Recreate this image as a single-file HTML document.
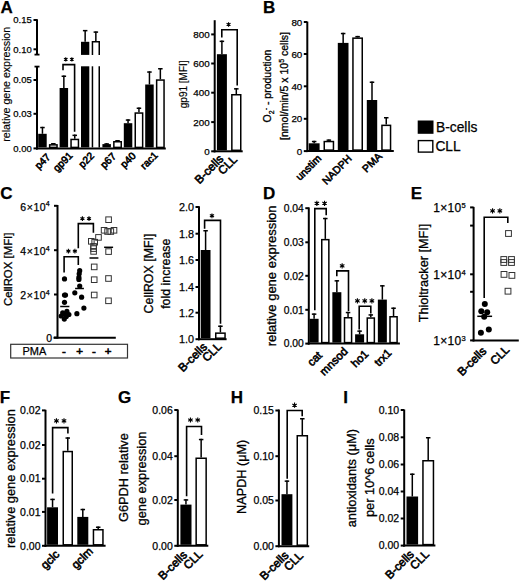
<!DOCTYPE html>
<html><head><meta charset="utf-8"><style>
html,body{margin:0;padding:0;background:#fff;}
body{width:520px;height:582px;overflow:hidden;}
svg{display:block;font-family:"Liberation Sans",sans-serif;}
text{fill:#000;stroke:#000;stroke-width:0.25px;}
.xl{stroke-width:0.6px;}
.yt{stroke-width:0.3px;}
</style></head><body>
<svg width="520" height="582" viewBox="0 0 520 582">
<text x="0.60" y="12.60" font-size="17" text-anchor="start" font-weight="bold">A</text>
<line x1="37.00" y1="19.20" x2="37.00" y2="55.00" stroke="#000" stroke-width="2"/>
<line x1="33.50" y1="20.00" x2="37.00" y2="20.00" stroke="#000" stroke-width="2"/>
<line x1="33.50" y1="49.30" x2="37.00" y2="49.30" stroke="#000" stroke-width="2"/>
<line x1="34.50" y1="54.60" x2="39.50" y2="54.60" stroke="#000" stroke-width="1.8"/>
<line x1="37.00" y1="66.00" x2="37.00" y2="149.40" stroke="#000" stroke-width="2"/>
<line x1="34.50" y1="66.60" x2="39.50" y2="66.60" stroke="#000" stroke-width="1.8"/>
<line x1="33.50" y1="80.00" x2="37.00" y2="80.00" stroke="#000" stroke-width="2"/>
<line x1="33.50" y1="113.80" x2="37.00" y2="113.80" stroke="#000" stroke-width="2"/>
<line x1="33.50" y1="148.40" x2="37.00" y2="148.40" stroke="#000" stroke-width="2"/>
<text x="31.80" y="23.40" font-size="9.5" text-anchor="end" font-weight="normal">0.15</text>
<text x="31.80" y="52.70" font-size="9.5" text-anchor="end" font-weight="normal">0.10</text>
<text x="31.80" y="83.40" font-size="9.5" text-anchor="end" font-weight="normal">0.05</text>
<text x="31.80" y="117.20" font-size="9.5" text-anchor="end" font-weight="normal">0.03</text>
<text x="31.80" y="151.80" font-size="9.5" text-anchor="end" font-weight="normal">0.00</text>
<line x1="36.00" y1="148.60" x2="165.80" y2="148.60" stroke="#000" stroke-width="2"/>
<line x1="42.45" y1="126.80" x2="42.45" y2="133.80" stroke="#000" stroke-width="1.5"/>
<line x1="40.20" y1="127.55" x2="44.70" y2="127.55" stroke="#000" stroke-width="1.5"/>
<rect x="38.20" y="133.80" width="8.50" height="13.60" fill="#000"/>
<line x1="53.35" y1="143.00" x2="53.35" y2="144.10" stroke="#000" stroke-width="1.5"/>
<line x1="51.10" y1="143.75" x2="55.60" y2="143.75" stroke="#000" stroke-width="1.5"/>
<rect x="49.65" y="144.85" width="7.40" height="2.55" fill="#fff" stroke="#000" stroke-width="1.5"/>
<line x1="63.85" y1="75.50" x2="63.85" y2="88.00" stroke="#000" stroke-width="1.5"/>
<line x1="61.60" y1="76.25" x2="66.10" y2="76.25" stroke="#000" stroke-width="1.5"/>
<rect x="59.60" y="88.00" width="8.50" height="59.40" fill="#000"/>
<line x1="74.75" y1="134.60" x2="74.75" y2="138.70" stroke="#000" stroke-width="1.5"/>
<line x1="72.50" y1="135.35" x2="77.00" y2="135.35" stroke="#000" stroke-width="1.5"/>
<rect x="71.05" y="139.45" width="7.40" height="7.95" fill="#fff" stroke="#000" stroke-width="1.5"/>
<line x1="85.15" y1="29.90" x2="85.15" y2="41.80" stroke="#000" stroke-width="1.5"/>
<line x1="82.90" y1="30.65" x2="87.40" y2="30.65" stroke="#000" stroke-width="1.5"/>
<rect x="81.00" y="41.80" width="8.30" height="13.10" fill="#000"/>
<line x1="95.85" y1="31.40" x2="95.85" y2="41.10" stroke="#000" stroke-width="1.5"/>
<line x1="93.60" y1="32.10" x2="98.10" y2="32.10" stroke="#000" stroke-width="1.5"/>
<polyline points="92.45,54.9 92.45,41.85 99.25,41.85 99.25,54.9" fill="none" stroke="#000" stroke-width="1.5"/>
<rect x="81.00" y="66.30" width="8.30" height="81.10" fill="#000"/>
<line x1="92.45" y1="66.30" x2="92.45" y2="147.40" stroke="#000" stroke-width="1.5"/>
<line x1="99.25" y1="66.30" x2="99.25" y2="147.40" stroke="#000" stroke-width="1.5"/>
<line x1="106.65" y1="143.20" x2="106.65" y2="144.10" stroke="#000" stroke-width="1.5"/>
<line x1="104.40" y1="143.95" x2="108.90" y2="143.95" stroke="#000" stroke-width="1.5"/>
<rect x="102.40" y="144.10" width="8.50" height="3.30" fill="#000"/>
<line x1="117.55" y1="140.00" x2="117.55" y2="141.00" stroke="#000" stroke-width="1.5"/>
<line x1="115.30" y1="140.75" x2="119.80" y2="140.75" stroke="#000" stroke-width="1.5"/>
<rect x="113.85" y="141.75" width="7.40" height="5.65" fill="#fff" stroke="#000" stroke-width="1.5"/>
<line x1="128.05" y1="119.30" x2="128.05" y2="123.20" stroke="#000" stroke-width="1.5"/>
<line x1="125.80" y1="120.05" x2="130.30" y2="120.05" stroke="#000" stroke-width="1.5"/>
<rect x="123.80" y="123.20" width="8.50" height="24.20" fill="#000"/>
<line x1="138.95" y1="107.50" x2="138.95" y2="112.30" stroke="#000" stroke-width="1.5"/>
<line x1="136.70" y1="108.25" x2="141.20" y2="108.25" stroke="#000" stroke-width="1.5"/>
<rect x="135.25" y="113.05" width="7.40" height="34.35" fill="#fff" stroke="#000" stroke-width="1.5"/>
<line x1="149.45" y1="71.30" x2="149.45" y2="84.50" stroke="#000" stroke-width="1.5"/>
<line x1="147.20" y1="72.05" x2="151.70" y2="72.05" stroke="#000" stroke-width="1.5"/>
<rect x="145.20" y="84.50" width="8.50" height="62.90" fill="#000"/>
<line x1="160.35" y1="68.00" x2="160.35" y2="79.30" stroke="#000" stroke-width="1.5"/>
<line x1="158.10" y1="68.75" x2="162.60" y2="68.75" stroke="#000" stroke-width="1.5"/>
<rect x="156.65" y="80.05" width="7.40" height="67.35" fill="#fff" stroke="#000" stroke-width="1.5"/>
<polyline points="63.00,70.30 63.00,64.60 74.60,64.60 74.60,131.80" fill="none" stroke="#000" stroke-width="1.6"/>
<path d="M65.75,57.30L65.75,61.50M63.93,58.35L67.57,60.45M63.93,60.45L67.57,58.35" stroke="#000" stroke-width="1.1" fill="none"/><circle cx="65.75" cy="59.40" r="0.88" fill="#000"/>
<path d="M71.85,57.30L71.85,61.50M70.03,58.35L73.67,60.45M70.03,60.45L73.67,58.35" stroke="#000" stroke-width="1.1" fill="none"/><circle cx="71.85" cy="59.40" r="0.88" fill="#000"/>
<text x="10.40" y="84.30" font-size="10.6" text-anchor="middle" font-weight="normal" transform="rotate(-90 10.40 84.30)" style="stroke-width:0.15px" class="yt">relative gene expression</text>
<line x1="214.70" y1="20.20" x2="214.70" y2="152.30" stroke="#000" stroke-width="2"/>
<line x1="211.20" y1="34.40" x2="214.70" y2="34.40" stroke="#000" stroke-width="2"/>
<text x="209.70" y="37.93" font-size="9.8" text-anchor="end" font-weight="normal">800</text>
<line x1="211.20" y1="63.50" x2="214.70" y2="63.50" stroke="#000" stroke-width="2"/>
<text x="209.70" y="67.03" font-size="9.8" text-anchor="end" font-weight="normal">600</text>
<line x1="211.20" y1="92.70" x2="214.70" y2="92.70" stroke="#000" stroke-width="2"/>
<text x="209.70" y="96.23" font-size="9.8" text-anchor="end" font-weight="normal">400</text>
<line x1="211.20" y1="122.10" x2="214.70" y2="122.10" stroke="#000" stroke-width="2"/>
<text x="209.70" y="125.63" font-size="9.8" text-anchor="end" font-weight="normal">200</text>
<line x1="211.20" y1="151.30" x2="214.70" y2="151.30" stroke="#000" stroke-width="2"/>
<text x="209.70" y="154.83" font-size="9.8" text-anchor="end" font-weight="normal">0</text>
<line x1="213.70" y1="151.30" x2="242.70" y2="151.30" stroke="#000" stroke-width="2"/>
<line x1="221.90" y1="40.60" x2="221.90" y2="54.20" stroke="#000" stroke-width="1.5"/>
<line x1="219.65" y1="41.35" x2="224.15" y2="41.35" stroke="#000" stroke-width="1.5"/>
<rect x="216.90" y="54.20" width="10.00" height="96.10" fill="#000"/>
<line x1="236.30" y1="88.10" x2="236.30" y2="94.00" stroke="#000" stroke-width="1.5"/>
<line x1="234.05" y1="88.85" x2="238.55" y2="88.85" stroke="#000" stroke-width="1.5"/>
<rect x="231.85" y="94.75" width="8.90" height="55.55" fill="#fff" stroke="#000" stroke-width="1.5"/>
<polyline points="221.80,37.50 221.80,29.80 237.20,29.80 237.20,85.50" fill="none" stroke="#000" stroke-width="1.6"/>
<path d="M228.55,22.15L228.55,26.75M226.56,23.30L230.54,25.60M226.56,25.60L230.54,23.30" stroke="#000" stroke-width="1.1" fill="none"/><circle cx="228.55" cy="24.45" r="0.97" fill="#000"/>
<text x="187.00" y="84.30" font-size="10" text-anchor="middle" font-weight="normal" transform="rotate(-90 187.00 84.30)" style="stroke-width:0.15px" class="yt">gp91 [MFI]</text>
<text x="263.10" y="12.90" font-size="17" text-anchor="start" font-weight="bold">B</text>
<line x1="307.30" y1="21.60" x2="307.30" y2="152.10" stroke="#000" stroke-width="2"/>
<line x1="303.80" y1="22.00" x2="307.30" y2="22.00" stroke="#000" stroke-width="2"/>
<text x="302.30" y="25.53" font-size="9.8" text-anchor="end" font-weight="normal">80</text>
<line x1="303.80" y1="54.00" x2="307.30" y2="54.00" stroke="#000" stroke-width="2"/>
<text x="302.30" y="57.53" font-size="9.8" text-anchor="end" font-weight="normal">60</text>
<line x1="303.80" y1="86.30" x2="307.30" y2="86.30" stroke="#000" stroke-width="2"/>
<text x="302.30" y="89.83" font-size="9.8" text-anchor="end" font-weight="normal">40</text>
<line x1="303.80" y1="118.80" x2="307.30" y2="118.80" stroke="#000" stroke-width="2"/>
<text x="302.30" y="122.33" font-size="9.8" text-anchor="end" font-weight="normal">20</text>
<line x1="303.80" y1="151.10" x2="307.30" y2="151.10" stroke="#000" stroke-width="2"/>
<text x="302.30" y="154.63" font-size="9.8" text-anchor="end" font-weight="normal">0</text>
<line x1="306.30" y1="151.10" x2="393.80" y2="151.10" stroke="#000" stroke-width="2"/>
<line x1="314.15" y1="140.80" x2="314.15" y2="143.30" stroke="#000" stroke-width="1.5"/>
<line x1="311.90" y1="141.55" x2="316.40" y2="141.55" stroke="#000" stroke-width="1.5"/>
<rect x="308.70" y="143.30" width="10.90" height="6.80" fill="#000"/>
<line x1="328.85" y1="139.40" x2="328.85" y2="140.80" stroke="#000" stroke-width="1.5"/>
<line x1="326.60" y1="140.15" x2="331.10" y2="140.15" stroke="#000" stroke-width="1.5"/>
<rect x="324.25" y="141.55" width="9.20" height="8.55" fill="#fff" stroke="#000" stroke-width="1.5"/>
<line x1="343.15" y1="32.80" x2="343.15" y2="42.90" stroke="#000" stroke-width="1.5"/>
<line x1="340.90" y1="33.55" x2="345.40" y2="33.55" stroke="#000" stroke-width="1.5"/>
<rect x="337.80" y="42.90" width="10.70" height="107.20" fill="#000"/>
<line x1="357.60" y1="35.90" x2="357.60" y2="37.40" stroke="#000" stroke-width="1.5"/>
<line x1="355.35" y1="36.65" x2="359.85" y2="36.65" stroke="#000" stroke-width="1.5"/>
<rect x="352.95" y="38.15" width="9.30" height="111.95" fill="#fff" stroke="#000" stroke-width="1.5"/>
<line x1="372.00" y1="81.50" x2="372.00" y2="100.00" stroke="#000" stroke-width="1.5"/>
<line x1="369.75" y1="82.25" x2="374.25" y2="82.25" stroke="#000" stroke-width="1.5"/>
<rect x="366.80" y="100.00" width="10.40" height="50.10" fill="#000"/>
<line x1="386.25" y1="117.00" x2="386.25" y2="124.60" stroke="#000" stroke-width="1.5"/>
<line x1="384.00" y1="117.75" x2="388.50" y2="117.75" stroke="#000" stroke-width="1.5"/>
<rect x="381.95" y="125.35" width="8.60" height="24.75" fill="#fff" stroke="#000" stroke-width="1.5"/>
<text x="271.00" y="86.00" font-size="10.5" text-anchor="middle" font-weight="normal" transform="rotate(-90 271.00 86.00)" class="yt">O<tspan font-size="7" dy="2.5">2</tspan><tspan font-size="7" dy="-6">-</tspan><tspan dy="3.5"> - production</tspan></text>
<text x="288.30" y="86.00" font-size="10.5" text-anchor="middle" font-weight="normal" transform="rotate(-90 288.30 86.00)" class="yt">[nmol/min/5 x 10<tspan font-size="7" dy="-4">5</tspan><tspan dy="4"> cells]</tspan></text>
<rect x="417.70" y="120.50" width="15.80" height="13.30" fill="#000"/>
<rect x="418.40" y="140.60" width="14.40" height="11.50" fill="#fff" stroke="#000" stroke-width="1.4"/>
<text x="436.00" y="131.60" font-size="13.8" text-anchor="start" font-weight="normal">B-cells</text>
<text x="435.40" y="150.90" font-size="13.8" text-anchor="start" font-weight="normal">CLL</text>
<text x="0.20" y="198.80" font-size="17" text-anchor="start" font-weight="bold">C</text>
<line x1="57.50" y1="205.00" x2="57.50" y2="338.60" stroke="#000" stroke-width="2"/>
<line x1="54.00" y1="205.80" x2="57.50" y2="205.80" stroke="#000" stroke-width="2"/>
<line x1="54.00" y1="250.20" x2="57.50" y2="250.20" stroke="#000" stroke-width="2"/>
<line x1="54.00" y1="294.50" x2="57.50" y2="294.50" stroke="#000" stroke-width="2"/>
<line x1="54.00" y1="337.60" x2="57.50" y2="337.60" stroke="#000" stroke-width="2"/>
<text x="50.20" y="210.70" font-size="10.5" text-anchor="end" font-weight="normal" letter-spacing="0.6">6×10<tspan font-size="7" dx="-0.6" dy="-4.6">4</tspan></text>
<text x="50.20" y="255.10" font-size="10.5" text-anchor="end" font-weight="normal" letter-spacing="0.6">4×10<tspan font-size="7" dx="-0.6" dy="-4.6">4</tspan></text>
<text x="50.20" y="299.40" font-size="10.5" text-anchor="end" font-weight="normal" letter-spacing="0.6">2×10<tspan font-size="7" dx="-0.6" dy="-4.6">4</tspan></text>
<text x="52.00" y="342.30" font-size="10.5" text-anchor="end" font-weight="normal">0</text>
<line x1="53.50" y1="337.80" x2="115.80" y2="337.80" stroke="#000" stroke-width="2"/>
<text x="12.40" y="269.30" font-size="11.4" text-anchor="middle" font-weight="normal" transform="rotate(-90 12.40 269.30)" class="yt">CellROX [MFI]</text>
<circle cx="64.50" cy="278.90" r="2.6" fill="#000"/>
<circle cx="64.50" cy="295.10" r="2.6" fill="#000"/>
<circle cx="65.50" cy="295.10" r="2.6" fill="#000"/>
<circle cx="64.50" cy="302.30" r="2.6" fill="#000"/>
<circle cx="62.70" cy="312.90" r="2.6" fill="#000"/>
<circle cx="66.90" cy="311.40" r="2.6" fill="#000"/>
<circle cx="68.90" cy="314.50" r="2.6" fill="#000"/>
<circle cx="61.20" cy="316.00" r="2.6" fill="#000"/>
<circle cx="64.30" cy="319.10" r="2.6" fill="#000"/>
<circle cx="66.30" cy="316.50" r="2.6" fill="#000"/>
<circle cx="64.00" cy="314.00" r="2.6" fill="#000"/>
<line x1="60.20" y1="306.50" x2="69.40" y2="306.50" stroke="#000" stroke-width="1.5"/>
<circle cx="79.70" cy="270.70" r="2.6" fill="#000"/>
<circle cx="79.20" cy="273.80" r="2.6" fill="#000"/>
<circle cx="78.90" cy="277.40" r="2.6" fill="#000"/>
<circle cx="78.90" cy="279.40" r="2.6" fill="#000"/>
<circle cx="79.70" cy="286.10" r="2.6" fill="#000"/>
<circle cx="74.80" cy="292.80" r="2.6" fill="#000"/>
<circle cx="81.60" cy="297.20" r="2.6" fill="#000"/>
<circle cx="83.90" cy="308.10" r="2.6" fill="#000"/>
<circle cx="76.90" cy="313.70" r="2.6" fill="#000"/>
<line x1="75.10" y1="288.50" x2="83.90" y2="288.50" stroke="#000" stroke-width="1.5"/>
<rect x="88.50" y="238.50" width="5.6" height="5.6" fill="none" stroke="#333" stroke-width="1.0"/>
<rect x="91.90" y="239.40" width="5.6" height="5.6" fill="none" stroke="#333" stroke-width="1.0"/>
<rect x="95.70" y="234.60" width="5.6" height="5.6" fill="none" stroke="#333" stroke-width="1.0"/>
<rect x="90.80" y="243.60" width="5.6" height="5.6" fill="none" stroke="#333" stroke-width="1.0"/>
<rect x="90.80" y="245.80" width="5.6" height="5.6" fill="none" stroke="#333" stroke-width="1.0"/>
<rect x="90.80" y="248.60" width="5.6" height="5.6" fill="none" stroke="#333" stroke-width="1.0"/>
<rect x="91.40" y="264.10" width="5.6" height="5.6" fill="none" stroke="#333" stroke-width="1.0"/>
<rect x="91.40" y="276.90" width="5.6" height="5.6" fill="none" stroke="#333" stroke-width="1.0"/>
<rect x="91.40" y="292.20" width="5.6" height="5.6" fill="none" stroke="#333" stroke-width="1.0"/>
<line x1="89.50" y1="258.00" x2="98.40" y2="258.00" stroke="#000" stroke-width="1.5"/>
<rect x="105.80" y="216.90" width="5.6" height="5.6" fill="none" stroke="#333" stroke-width="1.0"/>
<rect x="101.30" y="227.50" width="5.6" height="5.6" fill="none" stroke="#333" stroke-width="1.0"/>
<rect x="104.80" y="228.70" width="5.6" height="5.6" fill="none" stroke="#333" stroke-width="1.0"/>
<rect x="108.00" y="228.70" width="5.6" height="5.6" fill="none" stroke="#333" stroke-width="1.0"/>
<rect x="111.20" y="227.50" width="5.6" height="5.6" fill="none" stroke="#333" stroke-width="1.0"/>
<rect x="105.80" y="248.80" width="5.6" height="5.6" fill="none" stroke="#333" stroke-width="1.0"/>
<rect x="105.70" y="275.70" width="5.6" height="5.6" fill="none" stroke="#333" stroke-width="1.0"/>
<rect x="105.70" y="298.00" width="5.6" height="5.6" fill="none" stroke="#333" stroke-width="1.0"/>
<line x1="104.10" y1="247.30" x2="113.10" y2="247.30" stroke="#000" stroke-width="1.5"/>
<polyline points="64.10,272.50 64.10,256.70 78.30,256.70 78.30,265.00" fill="none" stroke="#000" stroke-width="1.6"/>
<path d="M68.40,248.80L68.40,253.40M66.41,249.95L70.39,252.25M66.41,252.25L70.39,249.95" stroke="#000" stroke-width="1.1" fill="none"/><circle cx="68.40" cy="251.10" r="0.97" fill="#000"/>
<path d="M74.90,248.80L74.90,253.40M72.91,249.95L76.89,252.25M72.91,252.25L76.89,249.95" stroke="#000" stroke-width="1.1" fill="none"/><circle cx="74.90" cy="251.10" r="0.97" fill="#000"/>
<polyline points="78.30,248.30 78.30,223.60 93.40,223.60 93.40,232.80" fill="none" stroke="#000" stroke-width="1.6"/>
<path d="M82.40,216.30L82.40,220.90M80.41,217.45L84.39,219.75M80.41,219.75L84.39,217.45" stroke="#000" stroke-width="1.1" fill="none"/><circle cx="82.40" cy="218.60" r="0.97" fill="#000"/>
<path d="M89.00,216.30L89.00,220.90M87.01,217.45L90.99,219.75M87.01,219.75L90.99,217.45" stroke="#000" stroke-width="1.1" fill="none"/><circle cx="89.00" cy="218.60" r="0.97" fill="#000"/>
<rect x="10.70" y="344.30" width="116.80" height="13.70" fill="#fff" stroke="#333" stroke-width="1.2"/>
<text x="22.50" y="355.40" font-size="11" text-anchor="start" font-weight="normal">PMA</text>
<text x="63.80" y="355.00" font-size="11.5" text-anchor="middle" font-weight="normal" style="stroke-width:0.6px">-</text>
<text x="79.50" y="355.00" font-size="11.5" text-anchor="middle" font-weight="normal" style="stroke-width:0.6px">+</text>
<text x="93.80" y="355.00" font-size="11.5" text-anchor="middle" font-weight="normal" style="stroke-width:0.6px">-</text>
<text x="108.00" y="355.00" font-size="11.5" text-anchor="middle" font-weight="normal" style="stroke-width:0.6px">+</text>
<line x1="199.00" y1="206.20" x2="199.00" y2="340.20" stroke="#000" stroke-width="2"/>
<line x1="195.50" y1="207.00" x2="199.00" y2="207.00" stroke="#000" stroke-width="2"/>
<text x="194.00" y="210.89" font-size="10.8" text-anchor="end" font-weight="normal">2.0</text>
<line x1="195.50" y1="233.70" x2="199.00" y2="233.70" stroke="#000" stroke-width="2"/>
<text x="194.00" y="237.59" font-size="10.8" text-anchor="end" font-weight="normal">1.8</text>
<line x1="195.50" y1="260.00" x2="199.00" y2="260.00" stroke="#000" stroke-width="2"/>
<text x="194.00" y="263.89" font-size="10.8" text-anchor="end" font-weight="normal">1.6</text>
<line x1="195.50" y1="287.00" x2="199.00" y2="287.00" stroke="#000" stroke-width="2"/>
<text x="194.00" y="290.89" font-size="10.8" text-anchor="end" font-weight="normal">1.4</text>
<line x1="195.50" y1="312.70" x2="199.00" y2="312.70" stroke="#000" stroke-width="2"/>
<text x="194.00" y="316.59" font-size="10.8" text-anchor="end" font-weight="normal">1.2</text>
<line x1="195.50" y1="339.20" x2="199.00" y2="339.20" stroke="#000" stroke-width="2"/>
<text x="194.00" y="343.09" font-size="10.8" text-anchor="end" font-weight="normal">1.0</text>
<line x1="198.00" y1="339.20" x2="226.60" y2="339.20" stroke="#000" stroke-width="2"/>
<line x1="205.60" y1="230.00" x2="205.60" y2="250.00" stroke="#000" stroke-width="1.5"/>
<line x1="203.35" y1="230.75" x2="207.85" y2="230.75" stroke="#000" stroke-width="1.5"/>
<rect x="200.70" y="250.00" width="9.80" height="88.20" fill="#000"/>
<line x1="220.40" y1="325.50" x2="220.40" y2="332.40" stroke="#000" stroke-width="1.5"/>
<line x1="218.15" y1="326.25" x2="222.65" y2="326.25" stroke="#000" stroke-width="1.5"/>
<rect x="215.75" y="333.15" width="9.30" height="5.05" fill="#fff" stroke="#000" stroke-width="1.5"/>
<polyline points="204.60,228.70 204.60,220.40 220.50,220.40 220.50,323.80" fill="none" stroke="#000" stroke-width="1.6"/>
<path d="M211.95,213.40L211.95,218.20M209.87,214.60L214.03,217.00M209.87,217.00L214.03,214.60" stroke="#000" stroke-width="1.1" fill="none"/><circle cx="211.95" cy="215.80" r="1.01" fill="#000"/>
<text x="153.00" y="273.50" font-size="12.4" text-anchor="middle" font-weight="normal" transform="rotate(-90 153.00 273.50)" class="yt">CellROX [MFI]</text>
<text x="170.00" y="273.70" font-size="12.4" text-anchor="middle" font-weight="normal" transform="rotate(-90 170.00 273.70)" class="yt">fold increase</text>
<text x="263.10" y="198.80" font-size="17" text-anchor="start" font-weight="bold">D</text>
<line x1="308.80" y1="207.40" x2="308.80" y2="344.60" stroke="#000" stroke-width="2"/>
<line x1="305.30" y1="208.20" x2="308.80" y2="208.20" stroke="#000" stroke-width="2"/>
<text x="303.80" y="211.91" font-size="10.3" text-anchor="end" font-weight="normal">0.04</text>
<line x1="305.30" y1="242.30" x2="308.80" y2="242.30" stroke="#000" stroke-width="2"/>
<text x="303.80" y="246.01" font-size="10.3" text-anchor="end" font-weight="normal">0.03</text>
<line x1="305.30" y1="275.80" x2="308.80" y2="275.80" stroke="#000" stroke-width="2"/>
<text x="303.80" y="279.51" font-size="10.3" text-anchor="end" font-weight="normal">0.02</text>
<line x1="305.30" y1="309.80" x2="308.80" y2="309.80" stroke="#000" stroke-width="2"/>
<text x="303.80" y="313.51" font-size="10.3" text-anchor="end" font-weight="normal">0.01</text>
<line x1="305.30" y1="343.60" x2="308.80" y2="343.60" stroke="#000" stroke-width="2"/>
<text x="303.80" y="347.31" font-size="10.3" text-anchor="end" font-weight="normal">0.00</text>
<line x1="307.80" y1="343.60" x2="399.90" y2="343.60" stroke="#000" stroke-width="2"/>
<line x1="314.10" y1="313.40" x2="314.10" y2="318.80" stroke="#000" stroke-width="1.5"/>
<line x1="311.85" y1="314.15" x2="316.35" y2="314.15" stroke="#000" stroke-width="1.5"/>
<rect x="309.60" y="318.80" width="9.00" height="23.80" fill="#000"/>
<line x1="325.30" y1="217.80" x2="325.30" y2="238.90" stroke="#000" stroke-width="1.5"/>
<line x1="323.05" y1="218.55" x2="327.55" y2="218.55" stroke="#000" stroke-width="1.5"/>
<rect x="321.75" y="239.65" width="7.10" height="102.95" fill="#fff" stroke="#000" stroke-width="1.5"/>
<line x1="336.85" y1="280.10" x2="336.85" y2="292.20" stroke="#000" stroke-width="1.5"/>
<line x1="334.60" y1="280.85" x2="339.10" y2="280.85" stroke="#000" stroke-width="1.5"/>
<rect x="332.35" y="292.20" width="9.00" height="50.40" fill="#000"/>
<line x1="348.05" y1="311.80" x2="348.05" y2="317.00" stroke="#000" stroke-width="1.5"/>
<line x1="345.80" y1="312.55" x2="350.30" y2="312.55" stroke="#000" stroke-width="1.5"/>
<rect x="344.50" y="317.75" width="7.10" height="24.85" fill="#fff" stroke="#000" stroke-width="1.5"/>
<line x1="359.60" y1="330.40" x2="359.60" y2="334.30" stroke="#000" stroke-width="1.5"/>
<line x1="357.35" y1="331.15" x2="361.85" y2="331.15" stroke="#000" stroke-width="1.5"/>
<rect x="355.10" y="334.30" width="9.00" height="8.30" fill="#000"/>
<line x1="370.80" y1="314.20" x2="370.80" y2="317.30" stroke="#000" stroke-width="1.5"/>
<line x1="368.55" y1="314.95" x2="373.05" y2="314.95" stroke="#000" stroke-width="1.5"/>
<rect x="367.25" y="318.05" width="7.10" height="24.55" fill="#fff" stroke="#000" stroke-width="1.5"/>
<line x1="382.35" y1="285.10" x2="382.35" y2="299.60" stroke="#000" stroke-width="1.5"/>
<line x1="380.10" y1="285.85" x2="384.60" y2="285.85" stroke="#000" stroke-width="1.5"/>
<rect x="377.85" y="299.60" width="9.00" height="43.00" fill="#000"/>
<line x1="393.55" y1="307.50" x2="393.55" y2="316.00" stroke="#000" stroke-width="1.5"/>
<line x1="391.30" y1="308.25" x2="395.80" y2="308.25" stroke="#000" stroke-width="1.5"/>
<rect x="390.00" y="316.75" width="7.10" height="25.85" fill="#fff" stroke="#000" stroke-width="1.5"/>
<polyline points="314.80,310.30 314.80,208.60 326.20,208.60 326.20,215.20" fill="none" stroke="#000" stroke-width="1.6"/>
<path d="M316.85,200.70L316.85,205.90M314.60,202.00L319.10,204.60M314.60,204.60L319.10,202.00" stroke="#000" stroke-width="1.1" fill="none"/><circle cx="316.85" cy="203.30" r="1.09" fill="#000"/>
<path d="M324.55,200.70L324.55,205.90M322.30,202.00L326.80,204.60M322.30,204.60L326.80,202.00" stroke="#000" stroke-width="1.1" fill="none"/><circle cx="324.55" cy="203.30" r="1.09" fill="#000"/>
<polyline points="336.80,276.20 336.80,270.90 348.50,270.90 348.50,311.00" fill="none" stroke="#000" stroke-width="1.6"/>
<path d="M342.15,263.25L342.15,268.45M339.90,264.55L344.40,267.15M339.90,267.15L344.40,264.55" stroke="#000" stroke-width="1.1" fill="none"/><circle cx="342.15" cy="265.85" r="1.09" fill="#000"/>
<polyline points="359.20,329.60 359.20,306.20 370.80,306.20 370.80,313.40" fill="none" stroke="#000" stroke-width="1.6"/>
<path d="M357.40,298.30L357.40,303.50M355.15,299.60L359.65,302.20M355.15,302.20L359.65,299.60" stroke="#000" stroke-width="1.1" fill="none"/><circle cx="357.40" cy="300.90" r="1.09" fill="#000"/>
<path d="M364.75,298.30L364.75,303.50M362.50,299.60L367.00,302.20M362.50,302.20L367.00,299.60" stroke="#000" stroke-width="1.1" fill="none"/><circle cx="364.75" cy="300.90" r="1.09" fill="#000"/>
<path d="M371.90,298.30L371.90,303.50M369.65,299.60L374.15,302.20M369.65,302.20L374.15,299.60" stroke="#000" stroke-width="1.1" fill="none"/><circle cx="371.90" cy="300.90" r="1.09" fill="#000"/>
<text x="276.00" y="275.90" font-size="13.0" text-anchor="middle" font-weight="normal" transform="rotate(-90 276.00 275.90)" class="yt">relative gene expression</text>
<text x="410.70" y="198.80" font-size="17" text-anchor="start" font-weight="bold">E</text>
<line x1="473.60" y1="206.90" x2="473.60" y2="341.40" stroke="#000" stroke-width="2"/>
<line x1="470.10" y1="207.40" x2="473.60" y2="207.40" stroke="#000" stroke-width="2"/>
<line x1="470.10" y1="225.60" x2="473.60" y2="225.60" stroke="#000" stroke-width="2"/>
<line x1="470.10" y1="274.30" x2="473.60" y2="274.30" stroke="#000" stroke-width="2"/>
<line x1="470.10" y1="291.80" x2="473.60" y2="291.80" stroke="#000" stroke-width="2"/>
<line x1="470.10" y1="340.40" x2="473.60" y2="340.40" stroke="#000" stroke-width="2"/>
<text x="466.20" y="212.40" font-size="12" text-anchor="end" font-weight="normal" letter-spacing="0.35">1×10<tspan font-size="7.6" dy="-4.4">5</tspan></text>
<text x="466.20" y="279.30" font-size="12" text-anchor="end" font-weight="normal" letter-spacing="0.35">1×10<tspan font-size="7.6" dy="-4.4">4</tspan></text>
<text x="466.20" y="345.40" font-size="12" text-anchor="end" font-weight="normal" letter-spacing="0.35">1×10<tspan font-size="7.6" dy="-4.4">3</tspan></text>
<line x1="472.60" y1="340.40" x2="518.80" y2="340.40" stroke="#000" stroke-width="2"/>
<text x="427.60" y="273.00" font-size="12.7" text-anchor="middle" font-weight="normal" transform="rotate(-90 427.60 273.00)" class="yt">Thioltracker [MFI]</text>
<circle cx="484.80" cy="304.00" r="3.0" fill="#000"/>
<circle cx="481.30" cy="311.30" r="3.0" fill="#000"/>
<circle cx="487.20" cy="312.30" r="3.0" fill="#000"/>
<circle cx="484.20" cy="316.70" r="3.0" fill="#000"/>
<circle cx="488.80" cy="329.50" r="3.0" fill="#000"/>
<circle cx="480.90" cy="332.70" r="3.0" fill="#000"/>
<line x1="477.30" y1="316.30" x2="492.10" y2="316.30" stroke="#000" stroke-width="1.5"/>
<rect x="505.60" y="230.60" width="5.8" height="5.8" fill="none" stroke="#333" stroke-width="1.0"/>
<rect x="500.90" y="256.60" width="5.8" height="5.8" fill="none" stroke="#333" stroke-width="1.0"/>
<rect x="500.90" y="259.60" width="5.8" height="5.8" fill="none" stroke="#333" stroke-width="1.0"/>
<rect x="508.60" y="256.60" width="5.8" height="5.8" fill="none" stroke="#333" stroke-width="1.0"/>
<rect x="508.60" y="259.60" width="5.8" height="5.8" fill="none" stroke="#333" stroke-width="1.0"/>
<rect x="501.10" y="271.50" width="5.8" height="5.8" fill="none" stroke="#333" stroke-width="1.0"/>
<rect x="509.00" y="272.50" width="5.8" height="5.8" fill="none" stroke="#333" stroke-width="1.0"/>
<rect x="505.10" y="288.30" width="5.8" height="5.8" fill="none" stroke="#333" stroke-width="1.0"/>
<polyline points="484.20,298.00 484.20,217.30 507.80,217.30 507.80,223.00" fill="none" stroke="#000" stroke-width="1.6"/>
<path d="M492.55,208.25L492.55,213.45M490.30,209.55L494.80,212.15M490.30,212.15L494.80,209.55" stroke="#000" stroke-width="1.1" fill="none"/><circle cx="492.55" cy="210.85" r="1.09" fill="#000"/>
<path d="M499.85,208.25L499.85,213.45M497.60,209.55L502.10,212.15M497.60,212.15L502.10,209.55" stroke="#000" stroke-width="1.1" fill="none"/><circle cx="499.85" cy="210.85" r="1.09" fill="#000"/>
<text x="-0.30" y="403.40" font-size="17" text-anchor="start" font-weight="bold">F</text>
<line x1="45.50" y1="409.80" x2="45.50" y2="546.80" stroke="#000" stroke-width="2"/>
<line x1="42.00" y1="410.40" x2="45.50" y2="410.40" stroke="#000" stroke-width="2"/>
<text x="40.50" y="414.18" font-size="10.5" text-anchor="end" font-weight="normal">0.02</text>
<line x1="42.00" y1="445.00" x2="45.50" y2="445.00" stroke="#000" stroke-width="2"/>
<text x="40.50" y="448.78" font-size="10.5" text-anchor="end" font-weight="normal">0.02</text>
<line x1="42.00" y1="478.70" x2="45.50" y2="478.70" stroke="#000" stroke-width="2"/>
<text x="40.50" y="482.48" font-size="10.5" text-anchor="end" font-weight="normal">0.01</text>
<line x1="42.00" y1="511.90" x2="45.50" y2="511.90" stroke="#000" stroke-width="2"/>
<text x="40.50" y="515.68" font-size="10.5" text-anchor="end" font-weight="normal">0.01</text>
<line x1="42.00" y1="545.80" x2="45.50" y2="545.80" stroke="#000" stroke-width="2"/>
<text x="40.50" y="549.58" font-size="10.5" text-anchor="end" font-weight="normal">0.00</text>
<line x1="44.50" y1="545.80" x2="105.60" y2="545.80" stroke="#000" stroke-width="2"/>
<line x1="52.55" y1="498.70" x2="52.55" y2="507.30" stroke="#000" stroke-width="1.5"/>
<line x1="50.30" y1="499.45" x2="54.80" y2="499.45" stroke="#000" stroke-width="1.5"/>
<rect x="47.10" y="507.30" width="10.90" height="37.50" fill="#000"/>
<line x1="67.75" y1="437.30" x2="67.75" y2="450.80" stroke="#000" stroke-width="1.5"/>
<line x1="65.50" y1="438.05" x2="70.00" y2="438.05" stroke="#000" stroke-width="1.5"/>
<rect x="63.25" y="451.55" width="9.00" height="93.25" fill="#fff" stroke="#000" stroke-width="1.5"/>
<line x1="82.80" y1="508.80" x2="82.80" y2="516.90" stroke="#000" stroke-width="1.5"/>
<line x1="80.55" y1="509.55" x2="85.05" y2="509.55" stroke="#000" stroke-width="1.5"/>
<rect x="77.30" y="516.90" width="11.00" height="27.90" fill="#000"/>
<line x1="98.20" y1="526.50" x2="98.20" y2="529.00" stroke="#000" stroke-width="1.5"/>
<line x1="95.95" y1="527.25" x2="100.45" y2="527.25" stroke="#000" stroke-width="1.5"/>
<rect x="93.45" y="529.75" width="9.50" height="15.05" fill="#fff" stroke="#000" stroke-width="1.5"/>
<polyline points="52.60,493.50 52.60,427.60 67.90,427.60 67.90,433.50" fill="none" stroke="#000" stroke-width="1.6"/>
<path d="M56.45,418.30L56.45,423.50M54.20,419.60L58.70,422.20M54.20,422.20L58.70,419.60" stroke="#000" stroke-width="1.1" fill="none"/><circle cx="56.45" cy="420.90" r="1.09" fill="#000"/>
<path d="M64.00,418.30L64.00,423.50M61.75,419.60L66.25,422.20M61.75,422.20L66.25,419.60" stroke="#000" stroke-width="1.1" fill="none"/><circle cx="64.00" cy="420.90" r="1.09" fill="#000"/>
<text x="14.80" y="478.60" font-size="12.8" text-anchor="middle" font-weight="normal" transform="rotate(-90 14.80 478.60)" class="yt">relative gene expression</text>
<text x="117.90" y="403.00" font-size="17" text-anchor="start" font-weight="bold">G</text>
<line x1="177.80" y1="409.50" x2="177.80" y2="546.80" stroke="#000" stroke-width="2"/>
<line x1="174.30" y1="410.00" x2="177.80" y2="410.00" stroke="#000" stroke-width="2"/>
<text x="172.80" y="413.78" font-size="10.5" text-anchor="end" font-weight="normal">0.06</text>
<line x1="174.30" y1="456.20" x2="177.80" y2="456.20" stroke="#000" stroke-width="2"/>
<text x="172.80" y="459.98" font-size="10.5" text-anchor="end" font-weight="normal">0.04</text>
<line x1="174.30" y1="500.00" x2="177.80" y2="500.00" stroke="#000" stroke-width="2"/>
<text x="172.80" y="503.78" font-size="10.5" text-anchor="end" font-weight="normal">0.02</text>
<line x1="174.30" y1="545.80" x2="177.80" y2="545.80" stroke="#000" stroke-width="2"/>
<text x="172.80" y="549.58" font-size="10.5" text-anchor="end" font-weight="normal">0.00</text>
<line x1="176.80" y1="545.80" x2="208.30" y2="545.80" stroke="#000" stroke-width="2"/>
<line x1="185.95" y1="499.20" x2="185.95" y2="504.60" stroke="#000" stroke-width="1.5"/>
<line x1="183.70" y1="499.95" x2="188.20" y2="499.95" stroke="#000" stroke-width="1.5"/>
<rect x="180.40" y="504.60" width="11.10" height="40.20" fill="#000"/>
<line x1="201.15" y1="438.80" x2="201.15" y2="457.50" stroke="#000" stroke-width="1.5"/>
<line x1="198.90" y1="439.55" x2="203.40" y2="439.55" stroke="#000" stroke-width="1.5"/>
<rect x="196.15" y="458.25" width="10.00" height="86.55" fill="#fff" stroke="#000" stroke-width="1.5"/>
<polyline points="186.60,496.30 186.60,426.50 201.50,426.50 201.50,435.00" fill="none" stroke="#000" stroke-width="1.6"/>
<path d="M190.45,417.40L190.45,422.60M188.20,418.70L192.70,421.30M188.20,421.30L192.70,418.70" stroke="#000" stroke-width="1.1" fill="none"/><circle cx="190.45" cy="420.00" r="1.09" fill="#000"/>
<path d="M197.75,417.40L197.75,422.60M195.50,418.70L200.00,421.30M195.50,421.30L200.00,418.70" stroke="#000" stroke-width="1.1" fill="none"/><circle cx="197.75" cy="420.00" r="1.09" fill="#000"/>
<text x="128.40" y="477.60" font-size="12.8" text-anchor="middle" font-weight="normal" transform="rotate(-90 128.40 477.60)" class="yt">G6PDH relative</text>
<text x="145.50" y="478.50" font-size="12.8" text-anchor="middle" font-weight="normal" transform="rotate(-90 145.50 478.50)" class="yt">gene expression</text>
<text x="230.70" y="403.40" font-size="17" text-anchor="start" font-weight="bold">H</text>
<line x1="278.90" y1="409.50" x2="278.90" y2="547.20" stroke="#000" stroke-width="2"/>
<line x1="275.40" y1="410.50" x2="278.90" y2="410.50" stroke="#000" stroke-width="2"/>
<text x="273.90" y="414.28" font-size="10.5" text-anchor="end" font-weight="normal">0.15</text>
<line x1="275.40" y1="456.20" x2="278.90" y2="456.20" stroke="#000" stroke-width="2"/>
<text x="273.90" y="459.98" font-size="10.5" text-anchor="end" font-weight="normal">0.10</text>
<line x1="275.40" y1="500.50" x2="278.90" y2="500.50" stroke="#000" stroke-width="2"/>
<text x="273.90" y="504.28" font-size="10.5" text-anchor="end" font-weight="normal">0.05</text>
<line x1="275.40" y1="546.20" x2="278.90" y2="546.20" stroke="#000" stroke-width="2"/>
<text x="273.90" y="549.98" font-size="10.5" text-anchor="end" font-weight="normal">0.00</text>
<line x1="277.90" y1="546.20" x2="309.20" y2="546.20" stroke="#000" stroke-width="2"/>
<line x1="286.95" y1="480.40" x2="286.95" y2="494.20" stroke="#000" stroke-width="1.5"/>
<line x1="284.70" y1="481.15" x2="289.20" y2="481.15" stroke="#000" stroke-width="1.5"/>
<rect x="281.50" y="494.20" width="10.90" height="51.00" fill="#000"/>
<line x1="302.30" y1="418.00" x2="302.30" y2="435.00" stroke="#000" stroke-width="1.5"/>
<line x1="300.05" y1="418.75" x2="304.55" y2="418.75" stroke="#000" stroke-width="1.5"/>
<rect x="297.25" y="435.75" width="10.10" height="109.45" fill="#fff" stroke="#000" stroke-width="1.5"/>
<polyline points="287.20,478.80 287.20,410.50 302.20,410.50 302.20,416.20" fill="none" stroke="#000" stroke-width="1.6"/>
<path d="M294.55,402.60L294.55,407.80M292.30,403.90L296.80,406.50M292.30,406.50L296.80,403.90" stroke="#000" stroke-width="1.1" fill="none"/><circle cx="294.55" cy="405.20" r="1.09" fill="#000"/>
<text x="245.90" y="476.80" font-size="12.7" text-anchor="middle" font-weight="normal" transform="rotate(-90 245.90 476.80)" class="yt">NAPDH (μM)</text>
<text x="343.30" y="403.20" font-size="17" text-anchor="start" font-weight="bold">I</text>
<line x1="404.20" y1="409.50" x2="404.20" y2="546.60" stroke="#000" stroke-width="2"/>
<line x1="400.70" y1="410.00" x2="404.20" y2="410.00" stroke="#000" stroke-width="2"/>
<text x="399.20" y="413.78" font-size="10.5" text-anchor="end" font-weight="normal">0.10</text>
<line x1="400.70" y1="437.30" x2="404.20" y2="437.30" stroke="#000" stroke-width="2"/>
<text x="399.20" y="441.08" font-size="10.5" text-anchor="end" font-weight="normal">0.08</text>
<line x1="400.70" y1="464.50" x2="404.20" y2="464.50" stroke="#000" stroke-width="2"/>
<text x="399.20" y="468.28" font-size="10.5" text-anchor="end" font-weight="normal">0.06</text>
<line x1="400.70" y1="491.50" x2="404.20" y2="491.50" stroke="#000" stroke-width="2"/>
<text x="399.20" y="495.28" font-size="10.5" text-anchor="end" font-weight="normal">0.04</text>
<line x1="400.70" y1="518.50" x2="404.20" y2="518.50" stroke="#000" stroke-width="2"/>
<text x="399.20" y="522.28" font-size="10.5" text-anchor="end" font-weight="normal">0.02</text>
<line x1="400.70" y1="545.60" x2="404.20" y2="545.60" stroke="#000" stroke-width="2"/>
<text x="399.20" y="549.38" font-size="10.5" text-anchor="end" font-weight="normal">0.00</text>
<line x1="403.20" y1="545.60" x2="435.40" y2="545.60" stroke="#000" stroke-width="2"/>
<line x1="412.30" y1="473.50" x2="412.30" y2="496.50" stroke="#000" stroke-width="1.5"/>
<line x1="410.05" y1="474.25" x2="414.55" y2="474.25" stroke="#000" stroke-width="1.5"/>
<rect x="406.50" y="496.50" width="11.60" height="48.10" fill="#000"/>
<line x1="428.20" y1="437.00" x2="428.20" y2="460.00" stroke="#000" stroke-width="1.5"/>
<line x1="425.95" y1="437.75" x2="430.45" y2="437.75" stroke="#000" stroke-width="1.5"/>
<rect x="422.95" y="460.75" width="10.50" height="83.85" fill="#fff" stroke="#000" stroke-width="1.5"/>
<text x="356.20" y="478.10" font-size="12.8" text-anchor="middle" font-weight="normal" transform="rotate(-90 356.20 478.10)" class="yt">antioxidants (μM)</text>
<text x="374.20" y="477.70" font-size="12.8" text-anchor="middle" font-weight="normal" transform="rotate(-90 374.20 477.70)" class="yt">per 10^6 cells</text>
<text x="51.00" y="157.65" font-size="10.2" text-anchor="end" font-weight="normal" transform="rotate(-45 51.00 157.65)" class="xl">p47</text>
<text x="73.40" y="156.15" font-size="10.2" text-anchor="end" font-weight="normal" transform="rotate(-45 73.40 156.15)" class="xl">gp91</text>
<text x="94.85" y="156.50" font-size="10.2" text-anchor="end" font-weight="normal" transform="rotate(-45 94.85 156.50)" class="xl">p22</text>
<text x="116.65" y="156.90" font-size="10.2" text-anchor="end" font-weight="normal" transform="rotate(-45 116.65 156.90)" class="xl">p67</text>
<text x="136.45" y="156.45" font-size="10.2" text-anchor="end" font-weight="normal" transform="rotate(-45 136.45 156.45)" class="xl">p40</text>
<text x="158.55" y="155.95" font-size="10.2" text-anchor="end" font-weight="normal" transform="rotate(-45 158.55 155.95)" class="xl">rac1</text>
<text x="224.25" y="159.65" font-size="11.7" text-anchor="end" font-weight="normal" transform="rotate(-45 224.25 159.65)" class="xl">B-cells</text>
<text x="237.85" y="160.05" font-size="11.7" text-anchor="end" font-weight="normal" transform="rotate(-45 237.85 160.05)" class="xl">CLL</text>
<text x="321.90" y="159.15" font-size="10.5" text-anchor="end" font-weight="normal" transform="rotate(-45 321.90 159.15)" class="xl">unstim</text>
<text x="352.50" y="159.20" font-size="10.5" text-anchor="end" font-weight="normal" transform="rotate(-45 352.50 159.20)" class="xl">NADPH</text>
<text x="382.60" y="156.95" font-size="10.5" text-anchor="end" font-weight="normal" transform="rotate(-45 382.60 156.95)" class="xl">PMA</text>
<text x="207.80" y="347.65" font-size="11.7" text-anchor="end" font-weight="normal" transform="rotate(-45 207.80 347.65)" class="xl">B-cells</text>
<text x="222.30" y="347.20" font-size="11.7" text-anchor="end" font-weight="normal" transform="rotate(-45 222.30 347.20)" class="xl">CLL</text>
<text x="322.65" y="356.15" font-size="11.3" text-anchor="end" font-weight="normal" transform="rotate(-45 322.65 356.15)" class="xl">cat</text>
<text x="348.35" y="352.15" font-size="11.3" text-anchor="end" font-weight="normal" transform="rotate(-45 348.35 352.15)" class="xl">mnsod</text>
<text x="369.10" y="354.70" font-size="11.3" text-anchor="end" font-weight="normal" transform="rotate(-45 369.10 354.70)" class="xl">ho1</text>
<text x="392.30" y="353.65" font-size="11.3" text-anchor="end" font-weight="normal" transform="rotate(-45 392.30 353.65)" class="xl">trx1</text>
<text x="487.10" y="351.75" font-size="11.7" text-anchor="end" font-weight="normal" transform="rotate(-45 487.10 351.75)" class="xl">B-cells</text>
<text x="510.15" y="350.30" font-size="11.7" text-anchor="end" font-weight="normal" transform="rotate(-45 510.15 350.30)" class="xl">CLL</text>
<text x="60.25" y="555.15" font-size="11.7" text-anchor="end" font-weight="normal" transform="rotate(-45 60.25 555.15)" class="xl">gclc</text>
<text x="93.70" y="552.10" font-size="11.7" text-anchor="end" font-weight="normal" transform="rotate(-45 93.70 552.10)" class="xl">gclm</text>
<text x="187.80" y="555.65" font-size="11.7" text-anchor="end" font-weight="normal" transform="rotate(-45 187.80 555.65)" class="xl">B-cells</text>
<text x="203.35" y="554.90" font-size="11.7" text-anchor="end" font-weight="normal" transform="rotate(-45 203.35 554.90)" class="xl">CLL</text>
<text x="289.35" y="556.05" font-size="11.7" text-anchor="end" font-weight="normal" transform="rotate(-45 289.35 556.05)" class="xl">B-cells</text>
<text x="303.90" y="556.30" font-size="11.7" text-anchor="end" font-weight="normal" transform="rotate(-45 303.90 556.30)" class="xl">CLL</text>
<text x="414.70" y="555.00" font-size="11.7" text-anchor="end" font-weight="normal" transform="rotate(-45 414.70 555.00)" class="xl">B-cells</text>
<text x="429.95" y="555.00" font-size="11.7" text-anchor="end" font-weight="normal" transform="rotate(-45 429.95 555.00)" class="xl">CLL</text>
</svg>
</body></html>
